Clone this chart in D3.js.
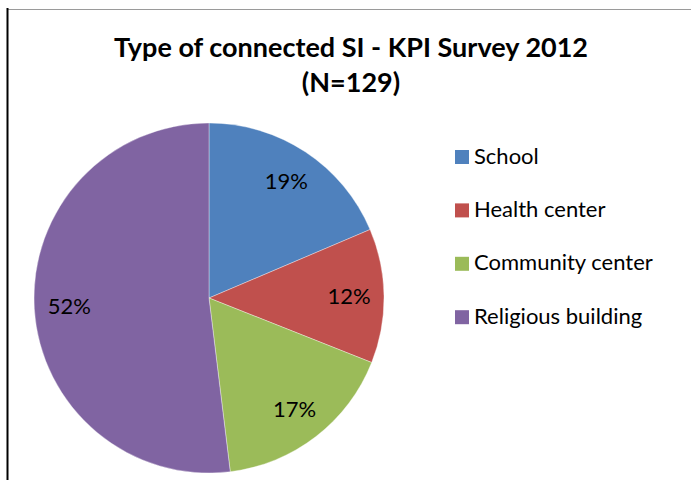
<!DOCTYPE html>
<html>
<head>
<meta charset="utf-8">
<script src="https://cdn.jsdelivr.net/npm/d3@7"></script>
<style>
  html, body { margin: 0; padding: 0; background: #fff; }
  svg { display: block; font-family: Lato, "Open Sans", "DejaVu Sans", sans-serif; }
</style>
</head>
<body>
<svg id="chart" width="691" height="480"></svg>
<script>
// Survey counts by type of connected site (N = 129)
const categories = ["School", "Health center", "Community center", "Religious building"];
const counts = [24, 16, 22, 67];
const percentLabels = ["19%", "12%", "17%", "52%"];
const colors = ["#4F81BD", "#C0504D", "#9BBB59", "#8064A2"];
const titleLines = ["Type of connected SI - KPI Survey 2012", "(N=129)"];

const svg = d3.select("#chart");
const W = 691, H = 480;

// chart frame
svg.append("line").attr("x1", 8).attr("x2", W).attr("y1", 9.5).attr("y2", 9.5)
  .attr("stroke", "#9a9a9a").attr("stroke-width", 1);
svg.append("line").attr("x1", 7.5).attr("x2", 7.5).attr("y1", 8).attr("y2", H)
  .attr("stroke", "#000").attr("stroke-width", 2);

// title
const title = svg.append("text")
  .attr("text-anchor", "middle")
  .attr("font-weight", "bold")
  .attr("font-size", 27)
  .attr("fill", "#000");
titleLines.forEach((t, i) => {
  title.append("tspan").attr("x", 351).attr("y", 57 + i * 35).text(t);
});

// pie
const cx = 209, cy = 298, R = 175;
const pie = d3.pie().sort(null).value(d => d.value).startAngle(0).endAngle(2 * Math.PI);
const data = categories.map((c, i) => ({ name: c, value: counts[i], label: percentLabels[i], color: colors[i] }));
const arcs = pie(data);
const arc = d3.arc().innerRadius(0).outerRadius(R);
const labelArc = d3.arc().innerRadius(R * 0.8).outerRadius(R * 0.8);

const g = svg.append("g").attr("transform", `translate(${cx},${cy})`);
g.selectAll("path.slice").data(arcs).join("path")
  .attr("class", "slice")
  .attr("d", arc)
  .attr("fill", d => d.data.color)
  .attr("stroke", "#fff")
  .attr("stroke-width", 0.6)
  .attr("stroke-opacity", 0.6);

g.selectAll("text.pct").data(arcs).join("text")
  .attr("class", "pct")
  .attr("transform", d => `translate(${labelArc.centroid(d)})`)
  .attr("text-anchor", "middle")
  .attr("dy", "0.35em")
  .attr("font-size", 22)
  .attr("fill", "#000")
  .text(d => d.data.label);

// legend
const legend = svg.append("g").attr("transform", "translate(455,150)");
const rows = legend.selectAll("g").data(data).join("g")
  .attr("transform", (d, i) => `translate(0,${i * 53.4})`);
rows.append("rect").attr("width", 14).attr("height", 14).attr("fill", d => d.color);
rows.append("text")
  .attr("x", 19).attr("y", 13.5)
  .attr("font-size", 22)
  .attr("fill", "#000")
  .text(d => d.name);
</script>
</body>
</html>
